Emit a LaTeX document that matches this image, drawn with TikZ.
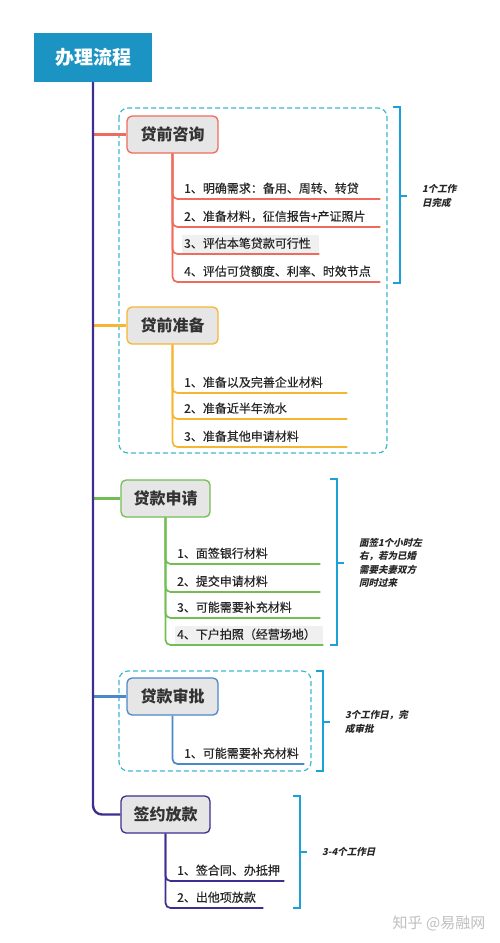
\documentclass[tikz,border=0pt]{standalone}
\usepackage{fontspec}
\setmainfont{Noto Sans CJK SC}
\newfontfamily\notefont[FakeSlant=0.22]{Noto Sans CJK SC}
\newfontfamily\leaffont[FakeBold=0.5]{Noto Sans CJK SC}
\usepackage{xcolor}
\usetikzlibrary{positioning}

\definecolor{titleblue}{HTML}{1B94C4}
\definecolor{trunkpurple}{HTML}{3C2F8F}
\definecolor{lred}{HTML}{EF6B5B}
\definecolor{lorange}{HTML}{F6B532}
\definecolor{lgreen}{HTML}{72BE55}
\definecolor{lblue}{HTML}{4C88C9}
\definecolor{dashcyan}{HTML}{3DB9CC}
\definecolor{bracketblue}{HTML}{1BA0D8}
\definecolor{topicgray}{HTML}{E6E6E6}
\definecolor{leafgray}{HTML}{F0F0F0}

\tikzset{
  titlebox/.style={fill=titleblue, text=white, minimum width=118pt, minimum height=49pt,
    font=\fontsize{19}{21}\selectfont\bfseries},
  topic/.style={draw=#1, fill=topicgray, line width=1.3pt, rounded corners=5pt,
    minimum width=91pt, minimum height=37pt, text=black!80,
    font=\fontsize{16}{18}\selectfont\bfseries},
  leaf/.style={anchor=south west, inner xsep=2pt, inner ysep=4pt, text height=9pt,
    text depth=2pt, text width=#1, align=left, text=black!85,
    font=\leaffont\fontsize{12}{14}\selectfont},
  branch/.style={draw=#1, line width=2.2pt},
  twig/.style={draw=#1, line width=1.7pt, rounded corners=5pt},
  dashbox/.style={draw=dashcyan, line width=1.2pt, dash pattern=on 5pt off 3pt, rounded corners=9pt},
  bracket/.style={draw=bracketblue, line width=1.3pt},
  note/.style={inner sep=0pt, anchor=west, align=left, text=black!85,
    font=\notefont\bfseries\fontsize{9.5}{13.5}\selectfont}
}

\begin{document}
\begin{tikzpicture}[x=1pt,y=-1pt]
  \useasboundingbox (0,0) rectangle (499,943);

  % 标题
  \node[titlebox] (title) at (93,57.5) {办理流程};

  % 五个环节
  \node[topic=lred] (t1) at (172.5,134.5) {贷前咨询};
  \node[topic=lorange] (t2) at (172.5,325.5) {贷前准备};
  \node[topic=lgreen, minimum width=89pt] (t3) at (165.5,498.5) {贷款申请};
  \node[topic=lblue] (t4) at (172.5,696.5) {贷款审批};
  \node[topic=trunkpurple, minimum width=89pt] (t5) at (165.5,814.5) {签约放款};

  % 虚线框
  \draw[dashbox] (119,108) rectangle (387,453);
  \draw[dashbox] (119,671) rectangle (311,771);

  % 主干与分支
  \draw[branch=lred] (t1.west -| title.south) -- (t1.west);
  \draw[branch=lorange] (t2.west -| title.south) -- (t2.west);
  \draw[branch=lgreen] (t3.west -| title.south) -- (t3.west);
  \draw[branch=lblue] (t4.west -| title.south) -- (t4.west);
  \draw[branch=trunkpurple, line width=2.4pt, rounded corners=9pt] (title.south) |- (t5.west);

  % 贷前咨询
  \node[leaf=194pt] (a1) at (182,199) {1、明确需求：备用、周转、转贷};
  \node[leaf=194pt] (a2) at (182,227) {2、准备材料，征信报告+产证照片};
  \node[leaf=133pt, fill=leafgray] (a3) at (182,254) {3、评估本笔贷款可行性};
  \node[leaf=194pt] (a4) at (182,282) {4、评估可贷额度、利率、时效节点};
  \foreach \n in {a1,a2,a3,a4}
    \draw[twig=lred] (t1.south) |- (\n.south east);

  % 贷前准备
  \node[leaf=161pt] (b1) at (182,393) {1、准备以及完善企业材料};
  \node[leaf=161pt] (b2) at (182,419) {2、准备近半年流水};
  \node[leaf=161pt] (b3) at (182,447) {3、准备其他申请材料};
  \foreach \n in {b1,b2,b3}
    \draw[twig=lorange] (t2.south) |- (\n.south east);

  % 贷款申请
  \node[leaf=141pt] (c1) at (175,564) {1、面签银行材料};
  \node[leaf=141pt] (c2) at (175,592) {2、提交申请材料};
  \node[leaf=141pt] (c3) at (175,618) {3、可能需要补充材料};
  \node[leaf=144pt, fill=leafgray] (c4) at (175,645) {4、下户拍照（经营场地）};
  \foreach \n in {c1,c2,c3,c4}
    \draw[twig=lgreen] (t3.south) |- (\n.south east);

  % 贷款审批
  \node[leaf=118pt] (d1) at (182,764) {1、可能需要补充材料};
  \draw[twig=lblue] (t4.south) |- (d1.south east);

  % 签约放款
  \node[leaf=105pt] (e1) at (175,881) {1、签合同、办抵押};
  \node[leaf=84pt] (e2) at (175,908) {2、出他项放款};
  \foreach \n in {e1,e2}
    \draw[twig=trunkpurple] (t5.south) |- (\n.south east);

  % 时间括号
  \foreach \bx/\ya/\yb/\ym/\nm in {400/107/283/196/k1, 337/479/645/563/k3,
      323/671/771/722/k4, 300/796/908/852/k5}
    \draw[bracket] (\bx-7,\ya) -- (\bx,\ya) -- (\bx,\yb) -- (\bx-7,\yb)
      (\bx,\ym) -- (\bx+7,\ym) coordinate (\nm);

  \node[note, right=15pt of k1] (n1) {1个工作\\日完成};
  \node[note, right=15pt of k3] (n3) {面签1个小时左\\右，若为已婚\\需要夫妻双方\\同时过来};
  \node[note, right=15pt of k4] (n4) {3个工作日，完\\成审批};
  \node[note, right=15pt of k5] (n5) {3-4个工作日};

  % 水印
  \node[text=black!25, font=\fontsize{15}{17}\selectfont] (mark) at (439,923) {知乎 @易融网};
\end{tikzpicture}
\end{document}
